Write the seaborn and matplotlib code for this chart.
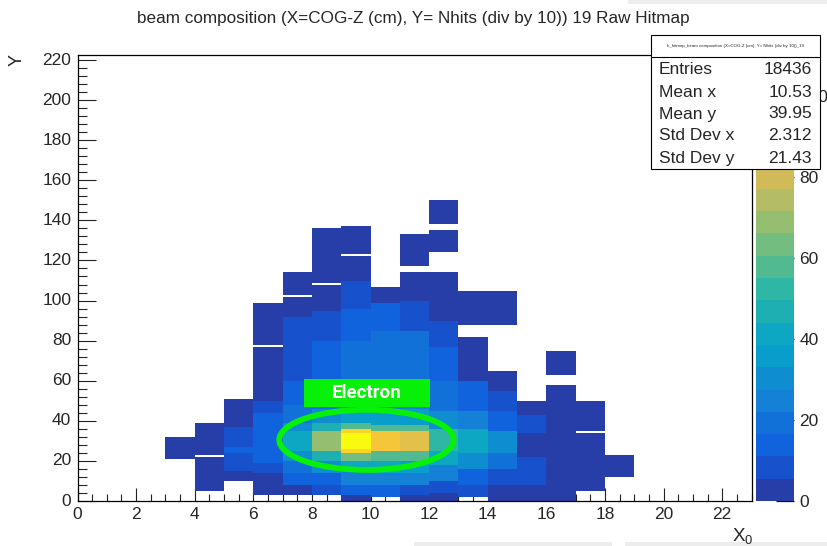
import numpy as np
import pandas as pd
import matplotlib
matplotlib.use("Agg")
import matplotlib.pyplot as plt
import seaborn as sns
from matplotlib.colors import ListedColormap, LinearSegmentedColormap
from matplotlib.patches import Ellipse, Rectangle
from matplotlib.lines import Line2D
from matplotlib.ticker import MultipleLocator

# ---- histogram binning -------------------------------------------------
n_xbins = 23          # COG-Z bins, width 1, 0..23
n_ybins = 223         # Nhits/10 bins, width 1
z_max = 110

# ---- bin contents per COG-Z column: (first y bin, last y bin, count) ----
x03 = [(21, 31, 2)]
x04 = [(5, 21, 2), (23, 38, 2)]
x05 = [(10, 14, 3), (15, 23, 8), (24, 26, 12), (27, 36, 9), (37, 50, 3)]
x06 = [(3, 13, 3), (14, 18, 9), (19, 34, 16), (35, 43, 11), (44, 49, 8),
       (50, 76, 3), (78, 98, 2)]
x07 = [(3, 7, 4), (8, 13, 11), (14, 19, 19), (20, 24, 30), (25, 34, 42),
       (35, 38, 28), (39, 47, 18), (48, 59, 12), (60, 79, 9), (80, 91, 6),
       (92, 101, 3), (103, 113, 2)]
x08 = [(3, 7, 6), (8, 13, 16), (14, 19, 30), (20, 24, 48), (25, 34, 68),
       (35, 38, 45), (39, 45, 30), (46, 59, 20), (60, 79, 14), (80, 94, 8),
       (95, 107, 3), (109, 135, 2)]
x09 = [(0, 2, 4), (3, 7, 12), (8, 14, 25), (15, 19, 42), (20, 23, 62),
       (24, 25, 95), (26, 33, 108), (34, 35, 95), (36, 38, 55), (39, 45, 38),
       (46, 59, 27), (60, 79, 20), (80, 95, 14), (96, 109, 9), (110, 121, 3),
       (123, 136, 2)]
x10 = [(2, 7, 12), (8, 13, 25), (14, 19, 40), (20, 24, 60), (25, 34, 88),
       (35, 37, 58), (38, 45, 38), (46, 59, 27), (60, 84, 20), (85, 98, 12),
       (99, 106, 3)]
x11 = [(0, 2, 4), (3, 7, 10), (8, 13, 22), (14, 19, 38), (20, 24, 58),
       (25, 34, 86), (35, 37, 55), (38, 45, 36), (46, 59, 24), (60, 84, 17),
       (85, 99, 10), (100, 113, 3), (117, 132, 2)]
x12 = [(0, 3, 3), (4, 9, 10), (10, 17, 25), (18, 24, 40), (25, 35, 52),
       (36, 44, 30), (45, 59, 20), (60, 76, 14), (77, 89, 6), (90, 113, 2),
       (124, 134, 2), (138, 149, 2)]
x13 = [(2, 7, 6), (8, 15, 15), (16, 23, 28), (24, 35, 40), (36, 44, 22),
       (45, 59, 14), (60, 81, 4), (88, 104, 2)]
x14 = [(0, 7, 4), (8, 15, 10), (16, 23, 18), (24, 34, 28), (35, 44, 16),
       (45, 54, 10), (55, 64, 4), (88, 104, 2)]
x15 = [(0, 7, 4), (8, 21, 8), (22, 33, 4), (34, 42, 8), (43, 49, 3)]
x16 = [(0, 57, 3), (63, 74, 2)]
x17 = [(5, 33, 2), (35, 49, 2)]
x18 = [(12, 22, 2)]

column_runs = {3: x03, 4: x04, 5: x05, 6: x06, 7: x07, 8: x08, 9: x09,
               10: x10, 11: x11, 12: x12, 13: x13, 14: x14, 15: x15,
               16: x16, 17: x17, 18: x18}

# ---- axis labels / ticks -------------------------------------------------
x_ticks = list(range(0, 23, 2))
y_ticks = list(range(0, 221, 20))
z_ticks = [0, 20, 40, 60, 80, 100]

title = "beam composition (X=COG-Z (cm), Y= Nhits (div by 10)) 19 Raw Hitmap"
stats_name = "h_hitmap_beam composition (X=COG-Z (cm), Y= Nhits (div by 10))_19"
stats_labels = ["Entries", "Mean x", "Mean y", "Std Dev x", "Std Dev y"]
stats_values = ["18436", "10.53", "39.95", "2.312", "21.43"]

# ---- fill the 2D histogram ----------------------------------------------
grid = np.zeros((n_ybins, n_xbins))
for xb, runs in column_runs.items():
    for lo, hi, count in runs:
        grid[lo:hi + 1, xb] = count
hist = pd.DataFrame(np.where(grid > 0, grid, np.nan))

# ---- ROOT "kBird" palette with 20 contour levels -------------------------
bird_stops = [0.0, 0.125, 0.25, 0.375, 0.5, 0.625, 0.75, 0.875, 1.0]
bird_r = [0.2082, 0.0592, 0.0780, 0.0232, 0.1802, 0.5301, 0.8186, 0.9956, 0.9764]
bird_g = [0.1664, 0.3599, 0.5041, 0.6419, 0.7178, 0.7492, 0.7328, 0.7862, 0.9832]
bird_b = [0.5293, 0.8684, 0.8385, 0.7914, 0.6425, 0.4662, 0.3499, 0.1968, 0.0539]
bird = LinearSegmentedColormap.from_list(
    "bird", list(zip(bird_stops, zip(bird_r, bird_g, bird_b))), N=255)
n_levels = 20
level_colors = [bird(int((i + 0.99) * 255 / n_levels) / 254.0) for i in range(n_levels)]
cmap = ListedColormap(level_colors)

# ---- figure --------------------------------------------------------------
sns.set_theme(style="white")
plt.rcParams["font.family"] = ["Liberation Sans", "DejaVu Sans"]
plt.rcParams["mathtext.fontset"] = "custom"
plt.rcParams["mathtext.rm"] = "Liberation Sans"

W, H = 827, 546
fig = plt.figure(figsize=(W / 100, H / 100), dpi=100)
fig.patch.set_facecolor("white")

def fx(px):
    return px / W

def fy(py):
    return 1 - py / H

ax = fig.add_axes([fx(77.5), fy(501), fx(751.5) - fx(77.5), fy(55) - fy(501)])
cax = fig.add_axes([fx(756), fy(501), fx(794) - fx(756), fy(55) - fy(501)])

sns.heatmap(hist, ax=ax, cbar_ax=cax, cmap=cmap, vmin=0, vmax=z_max,
            cbar=True, linewidths=0)

ax.set_xlim(0, n_xbins)
ax.set_ylim(0, 222.5)
for s in ax.spines.values():
    s.set_visible(True)
    s.set_color("black")
    s.set_linewidth(0.9)

ax.set_xticks(x_ticks)
ax.set_xticklabels([str(t) for t in x_ticks])
ax.set_yticks(y_ticks)
ax.set_yticklabels([str(t) for t in y_ticks], rotation=0)
ax.xaxis.set_minor_locator(MultipleLocator(0.5))
ax.yaxis.set_minor_locator(MultipleLocator(4))
ax.tick_params(axis="x", which="major", direction="in", length=9.4, width=0.8,
               color="#222222", labelsize=12.5, pad=4, bottom=True, top=False,
               labelrotation=0)
ax.tick_params(axis="x", which="minor", direction="in", length=4.7, width=0.8,
               color="#222222", bottom=True, top=False)
ax.tick_params(axis="y", which="major", direction="in", length=13, width=0.8,
               color="#222222", labelsize=12.5, pad=4.5, left=True, right=False)
ax.tick_params(axis="y", which="minor", direction="in", length=6.5, width=0.8,
               color="#222222", left=True, right=False)
ax.set_xlabel("")
ax.set_ylabel("")

# colour scale
cbar = ax.collections[0].colorbar
cbar.outline.set_visible(False)
cbar.set_ticks(z_ticks)
cbar.set_ticklabels([str(t) for t in z_ticks])
cax.yaxis.set_minor_locator(matplotlib.ticker.NullLocator())
cax.tick_params(axis="y", direction="in", length=13, width=0.9, color="#111111",
                labelsize=12.5, pad=4, right=True, left=False)

# electron annotation
ax.add_patch(Ellipse((9.86, 30.5), 5.95, 30.0, fill=False, edgecolor="#07f007",
                     linewidth=4.2, zorder=5))
ax.add_patch(Rectangle((7.72, 46.9), 4.32, 13.9, facecolor="#07f007",
                       edgecolor="none", zorder=5))
ax.text(9.88, 53.8, "Electron", color="white", fontsize=13.5, fontweight="bold",
        family=["Roboto", "DejaVu Sans"], ha="center", va="center", zorder=6)

# titles
fig.text(0.4995, fy(18), title, ha="center", va="center", fontsize=12.3)
fig.text(fx(17), fy(60), "Y", rotation=90, ha="center", va="center", fontsize=13)
fig.text(fx(753), fy(536), r"$\mathregular{X_0}$", ha="right", va="center", fontsize=13.5)

# statistics box
fig.add_artist(Rectangle((fx(651), fy(169)), fx(820) - fx(651), fy(35) - fy(169),
                         transform=fig.transFigure, facecolor="white",
                         edgecolor="black", linewidth=0.8, zorder=10))
fig.add_artist(Line2D([fx(651), fx(820)], [fy(57), fy(57)], transform=fig.transFigure,
                      color="black", linewidth=0.8, zorder=11))
fig.text(fx(735.5), fy(46), stats_name, ha="center", va="center", fontsize=3.2,
         zorder=12)
row_y = [70, 92, 114, 136, 158]
for lab, val, py in zip(stats_labels, stats_values, row_y):
    fig.text(fx(659), fy(py), lab, ha="left", va="center", fontsize=12.5, zorder=12)
    fig.text(fx(812), fy(py), val, ha="right", va="center", fontsize=12.5, zorder=12)

# light panel edges around the canvas
for (x0, y0, x1, y1) in [(628, 0, 827, 4), (414, 542, 612, 546), (625, 542, 827, 546)]:
    fig.add_artist(Rectangle((fx(x0), fy(y1)), fx(x1) - fx(x0), fy(y0) - fy(y1),
                             transform=fig.transFigure, facecolor="#ededed",
                             edgecolor="none", zorder=0))

fig.savefig("out.png", dpi=100, facecolor="white")
